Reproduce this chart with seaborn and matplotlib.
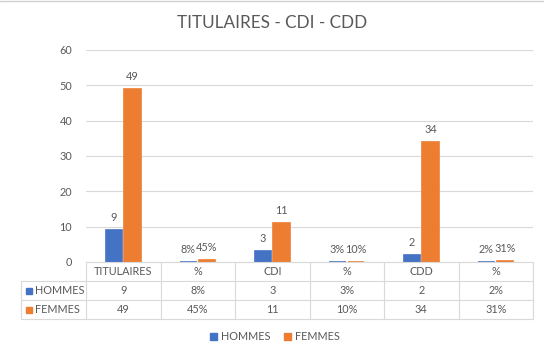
import pandas as pd
import matplotlib.pyplot as plt
import seaborn as sns
from matplotlib.lines import Line2D
from matplotlib.patches import Patch

colonnes = ["TITULAIRES", "%", "CDI", "%", "CDD", "%"]
hommes = [9, 0.08, 3, 0.03, 2, 0.02]
femmes = [49, 0.45, 11, 0.10, 34, 0.31]
est_pct = [False, True, False, True, False, True]
series = ["HOMMES", "FEMMES"]

bleu = "#4472C4"
orange = "#ED7D31"
gris_txt = "#595959"
gris_ligne = "#D9D9D9"
taille = 7.8


def fmt(v, pct):
    if pct:
        return f"{round(v * 100)}%"
    return f"{v:g}"


lignes = []
for i in range(len(colonnes)):
    lignes.append({"pos": i, "serie": "HOMMES", "val": hommes[i]})
    lignes.append({"pos": i, "serie": "FEMMES", "val": femmes[i]})
df = pd.DataFrame(lignes)

sns.set_theme(style="white")
plt.rcParams["font.family"] = ["Lato", "DejaVu Sans"]

fig = plt.figure(figsize=(5.44, 3.55), dpi=100)
ax = fig.add_axes([86 / 544, 93 / 355, 447 / 544, 212 / 355])

sns.barplot(data=df, x="pos", y="val", hue="serie", hue_order=series,
            palette=[bleu, orange], saturation=1, width=0.5, gap=0.12,
            legend=False, ax=ax)
# petites barres visibles comme dans Excel
for p in ax.patches:
    p.set_edgecolor(p.get_facecolor())
    p.set_linewidth(1.2)

ax.set_xlim(-0.5, 5.5)
ax.set_ylim(0, 60)
ax.set_yticks(range(0, 61, 10))
ax.set_xticks([])
ax.set_xlabel("")
ax.set_ylabel("")
ax.yaxis.grid(True, color=gris_ligne, lw=0.8)
ax.set_axisbelow(True)
for s in ax.spines.values():
    s.set_visible(False)
ax.tick_params(axis="y", length=0, pad=10, labelsize=taille, labelcolor=gris_txt)

# etiquettes des barres
for cont, vals in zip(ax.containers, [hommes, femmes]):
    labs = [fmt(v, p) for v, p in zip(vals, est_pct)]
    ax.bar_label(cont, labels=labs, padding=5, fontsize=taille, color=gris_txt)

# tableau de donnees sous le graphique
n = len(colonnes)
h = 19 / 212
gauche = (21 - 86) / 447
tr = ax.transAxes
kw = dict(transform=tr, clip_on=False, color=gris_ligne, lw=0.8)
ax.plot([0, 1], [0, 0], **kw)
for k in (1, 2, 3):
    ax.plot([gauche, 1], [-k * h, -k * h], **kw)
for c in range(n + 1):
    ax.plot([c / n, c / n], [0, -3 * h], **kw)
ax.plot([gauche, gauche], [-h, -3 * h], **kw)

for c in range(n):
    xc = (c + 0.5) / n
    ax.text(xc, -0.5 * h, colonnes[c], transform=tr, ha="center", va="center",
            fontsize=taille, color=gris_txt)
    ax.text(xc, -1.5 * h, fmt(hommes[c], est_pct[c]), transform=tr,
            ha="center", va="center", fontsize=taille, color=gris_txt)
    ax.text(xc, -2.5 * h, fmt(femmes[c], est_pct[c]), transform=tr,
            ha="center", va="center", fontsize=taille, color=gris_txt)

for r, (nom, col) in enumerate(zip(series, [bleu, orange])):
    yc = -(r + 1.5) * h
    ax.plot([(28.5 - 86) / 447], [yc], marker="s", ms=4.3, color=col,
            transform=tr, clip_on=False)
    ax.text((35 - 86) / 447, yc, nom, transform=tr, ha="left", va="center",
            fontsize=taille, color=gris_txt)

fig.text(272.5 / 544, 1 - 23.5 / 355, "TITULAIRES - CDI - CDD", ha="center",
         va="center", fontsize=12.3, color=gris_txt)

poignees = [Patch(color=bleu, label="HOMMES"), Patch(color=orange, label="FEMMES")]
fig.legend(handles=poignees, loc="center", bbox_to_anchor=(275 / 544, 1 - 337 / 355),
           ncol=2, frameon=False, fontsize=taille, handlelength=0.6, handleheight=0.6,
           handletextpad=0.35, columnspacing=1.3, labelcolor=gris_txt)

# trait gris en haut (bord de cellule)
fig.add_artist(Line2D([0, 1], [0.998, 0.998], color="#D0D0D0", lw=1))

fig.savefig("out.png", dpi=100)
